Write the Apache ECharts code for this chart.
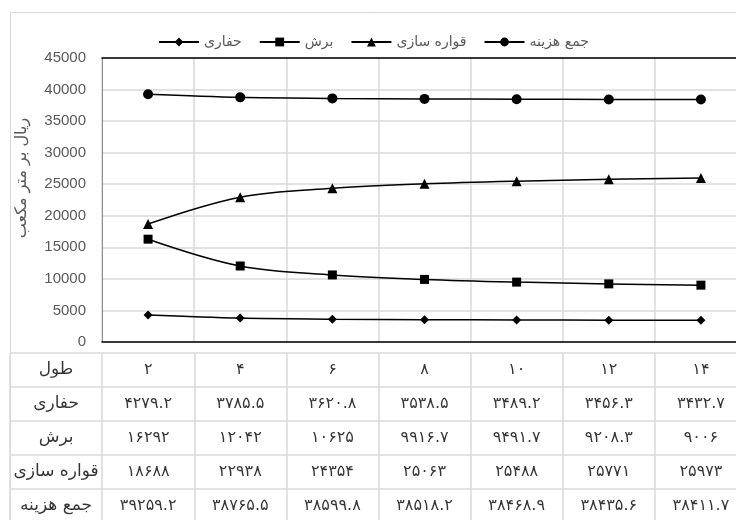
<!DOCTYPE html>
<html><head><meta charset="utf-8">
<script src="https://cdn.jsdelivr.net/npm/echarts@6/dist/echarts.min.js"></script>
<style>html,body{margin:0;padding:0;background:#fff}#c{width:736px;height:520px}</style>
</head><body><div id="c"></div>
<script>
// ---- data ----
var lengths = [2, 4, 6, 8, 10, 12, 14];
var rowHeader = 'طول';
var nameDrill = 'حفاری';
var nameCut = 'برش';
var nameShape = 'قواره سازی';
var nameTotal = 'جمع هزینه';
var drill = [4279.2, 3785.5, 3620.8, 3538.5, 3489.2, 3456.3, 3432.7];
var cut = [16292, 12042, 10625, 9916.7, 9491.7, 9208.3, 9006];
var shape = [18688, 22938, 24354, 25063, 25488, 25771, 25973];
var total = [39259.2, 38765.5, 38599.8, 38518.2, 38468.9, 38435.6, 38411.7];
var yTicks = [0, 45000, 5000]; // min, max, interval
var yTitle = 'ریال بر متر مکعب';

function fa(v){ return String(v).replace(/[0-9]/g, function(d){ return '۰۱۲۳۴۵۶۷۸۹'[+d]; }); }

var faFont = '"DejaVu Sans", sans-serif';
var grid = '#d9d9d9';

// table cells
var tableRows = [
  [rowHeader].concat(lengths),
  [nameDrill].concat(drill),
  [nameCut].concat(cut),
  [nameShape].concat(shape),
  [nameTotal].concat(total)
];
var cells = [];
tableRows.forEach(function(row, r){
  row.forEach(function(v, c){
    var isName = typeof v !== 'number';
    cells.push({value:[c, r], label:{formatter: isName ? v : fa(v), fontSize: isName ? 17 : 16}});
  });
});
var tableCols = ['h'].concat(lengths.map(String));

function lineSeries(name, data, symbol, size){
  return {
    name: name, type: 'line', xAxisIndex: 0, yAxisIndex: 0, data: data,
    smooth: 0.35, symbol: symbol, symbolSize: size,
    lineStyle: {color: '#000', width: 1.5}, itemStyle: {color: '#000'}, z: 5
  };
}

var chart = echarts.init(document.getElementById('c'));
chart.setOption({
  animation: false,
  backgroundColor: '#fff',
  legend: {
    top: 30, left: 153, itemWidth: 40, itemHeight: 11, itemGap: 17,
    textStyle: {fontFamily: faFont, fontSize: 14, color: '#595959'},
    data: [nameDrill, nameCut, nameShape, nameTotal]
  },
  graphic: [
    {type: 'rect', shape: {x: 10.5, y: 12.5, width: 900, height: 700}, style: {fill: null, stroke: grid, lineWidth: 1}, z: -10, silent: true},
    {type: 'text', x: 22, y: 178, rotation: Math.PI / 2,
     style: {text: yTitle, font: '16px "DejaVu Sans"', fill: '#595959', textAlign: 'center', textVerticalAlign: 'middle'}}
  ],
  grid: [
    {left: 102, width: 645, top: 58, height: 284, outerBoundsMode: 'none', containLabel: false},
    {left: 10, width: 737, top: 353, height: 170, outerBoundsMode: 'none', containLabel: false}
  ],
  xAxis: [
    {type: 'category', gridIndex: 0, data: lengths.map(String), boundaryGap: true,
     axisLine: {lineStyle: {color: '#000', width: 1.5}}, axisTick: {show: false}, axisLabel: {show: false},
     splitLine: {show: true, interval: 0, lineStyle: {color: grid, width: 1.5}}},
    {type: 'category', gridIndex: 0, position: 'top', data: lengths.map(String),
     axisLine: {lineStyle: {color: '#000', width: 1.5}}, axisTick: {show: false}, axisLabel: {show: false}},
    {type: 'category', gridIndex: 1, data: tableCols, boundaryGap: true,
     axisLine: {show: false}, axisTick: {show: false}, axisLabel: {show: false},
     splitLine: {show: true, interval: 0, lineStyle: {color: grid, width: 1.5}}}
  ],
  yAxis: [
    {type: 'value', gridIndex: 0, min: yTicks[0], max: yTicks[1], interval: yTicks[2],
     axisLine: {show: true, lineStyle: {color: '#8c8c8c'}}, axisTick: {show: false},
     axisLabel: {margin: 16, color: '#595959', fontSize: 15, fontFamily: '"Liberation Sans", Arial',
       formatter: function(v){ return String(v); }},
     splitLine: {show: true, lineStyle: {color: grid, width: 1.5}}},
    {type: 'category', gridIndex: 1, inverse: true, data: tableRows.map(function(r, i){ return String(i); }),
     boundaryGap: true, axisLine: {show: false}, axisTick: {show: false}, axisLabel: {show: false},
     splitLine: {show: true, interval: 0, lineStyle: {color: grid, width: 1.5}}}
  ],
  series: [
    lineSeries(nameDrill, drill, 'diamond', 9),
    lineSeries(nameCut, cut, 'rect', 9),
    lineSeries(nameShape, shape, 'triangle', 10),
    lineSeries(nameTotal, total, 'circle', 10),
    {type: 'scatter', xAxisIndex: 2, yAxisIndex: 1, data: cells, symbolSize: 1,
     itemStyle: {color: 'rgba(0,0,0,0)'}, silent: true,
     label: {show: true, position: 'inside', color: '#000', fontFamily: faFont, fontSize: 16}}
  ]
});
</script></body></html>
